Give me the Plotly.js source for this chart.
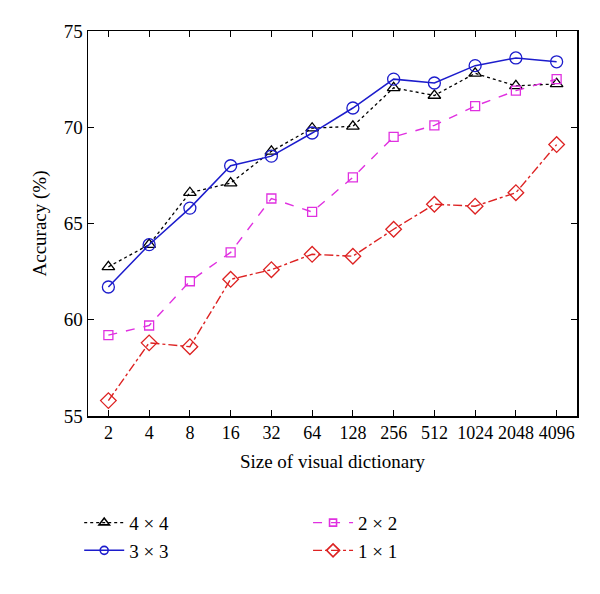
<!DOCTYPE html>
<html>
<head>
<meta charset="utf-8">
<script src="https://cdn.plot.ly/plotly-3.0.1.min.js"></script>
<style>html,body{margin:0;padding:0;background:#fff;}#chart{width:600px;height:594px;}</style>
</head>
<body>
<div id="chart"></div>
<script>
var categories = ["2","4","8","16","32","64","128","256","512","1024","2048","4096"];
var names = ["4 \u00d7 4","3 \u00d7 3","2 \u00d7 2","1 \u00d7 1"];
var acc4x4 = [62.75, 63.9, 66.6, 67.1, 68.75, 69.95, 70.05, 72.05, 71.65, 72.8, 72.15, 72.25];
var acc3x3 = [61.7, 63.9, 65.8, 68.0, 68.5, 69.7, 71.0, 72.5, 72.3, 73.2, 73.6, 73.4];
var acc2x2 = [59.2, 59.7, 62.0, 63.5, 66.3, 65.6, 67.4, 69.5, 70.1, 71.1, 71.9, 72.5];
var acc1x1 = [55.8, 58.8, 58.6, 62.1, 62.6, 63.4, 63.3, 64.7, 66.0, 65.9, 66.6, 69.1];
var yTicks = [55, 60, 65, 70, 75];

var font = "Liberation Serif, Times New Roman, serif";
var series = [acc4x4, acc3x3, acc2x2, acc1x1];
var styles = [
  {color: "#000000", dash: "dot", symbol: "triangle-up-open", size: 11, lw: 1.3, legend: "legend"},
  {color: "#1c1ccc", dash: "solid", symbol: "circle-open", size: 12, lw: 1.5, legend: "legend"},
  {color: "#e030e0", dash: "dash", symbol: "square-open", size: 9, lw: 1.4, legend: "legend2"},
  {color: "#dd2222", dash: "dashdot", symbol: "diamond-open", size: 12, lw: 1.4, legend: "legend2"}
];
var legendSizes = [9, 8, 7, 10];
var traces = [];
series.forEach(function (ys, i) {
  var s = styles[i];
  traces.push({x: categories, y: ys, name: names[i], mode: "lines+markers", showlegend: false,
    line: {color: s.color, width: s.lw, dash: s.dash},
    marker: {symbol: s.symbol, size: s.size, color: s.color, line: {width: 1.3}}});
});
series.forEach(function (ys, i) {
  var s = styles[i];
  traces.push({x: [null], y: [null], name: names[i], mode: "lines+markers", legend: s.legend,
    line: {color: s.color, width: s.lw, dash: s.dash},
    marker: {symbol: s.symbol, size: legendSizes[i], color: s.color, line: {width: 1.6}}});
});

var layout = {
  width: 600, height: 594,
  margin: {l: 88, r: 23, t: 31, b: 178},
  paper_bgcolor: "#ffffff", plot_bgcolor: "#ffffff",
  font: {family: font, size: 18, color: "#000"},
  showlegend: true,
  xaxis: {
    type: "category", range: [-0.5, 11.5],
    showline: true, linecolor: "#000", linewidth: 1.5, mirror: "ticks",
    ticks: "inside", ticklen: 6, tickcolor: "#000", tickwidth: 1.2,
    showgrid: false, zeroline: false,
    tickfont: {family: font, size: 18},
    title: {text: "Size of visual dictionary", font: {family: font, size: 19}, standoff: 12}
  },
  yaxis: {
    range: [55, 75], tickvals: yTicks,
    showline: true, linecolor: "#000", linewidth: 1.5, mirror: "ticks",
    ticks: "inside", ticklen: 6, tickcolor: "#000", tickwidth: 1.2,
    showgrid: false, zeroline: false,
    tickfont: {family: font, size: 19},
    title: {text: "Accuracy (%)", font: {family: font, size: 19}, standoff: 12}
  },
  legend: {x: -0.018, y: -0.228, xanchor: "left", yanchor: "top", orientation: "v", itemwidth: 40,
    bgcolor: "rgba(0,0,0,0)", font: {family: font, size: 19}, tracegroupgap: 0},
  legend2: {x: 0.45, y: -0.228, xanchor: "left", yanchor: "top", orientation: "v", itemwidth: 40,
    bgcolor: "rgba(0,0,0,0)", font: {family: font, size: 19}, tracegroupgap: 0}
};

Plotly.newPlot("chart", traces, layout, {displayModeBar: false, staticPlot: true});
</script>
</body>
</html>
